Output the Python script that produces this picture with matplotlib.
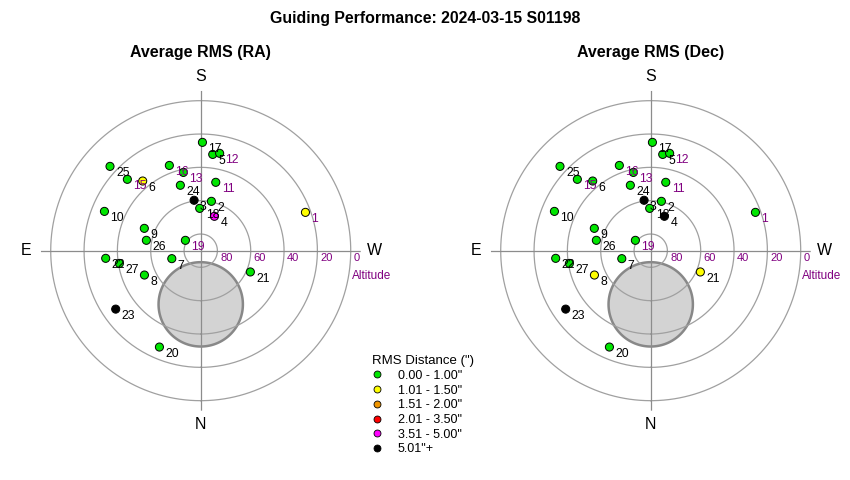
import numpy as np
import matplotlib
matplotlib.use("Agg")
import matplotlib.pyplot as plt
from matplotlib.lines import Line2D

plt.rcParams['font.family'] = ['Liberation Sans', 'DejaVu Sans']

# guide star positions: id, azimuth (deg from N through E), altitude (deg)
point_ids = [1, 2, 3, 4, 5, 6, 7, 8, 9, 10, 11, 12, 13, 15, 16, 17, 18, 19,
             20, 21, 22, 23, 24, 25, 26, 27]
azimuth = [249.9, 192.2, 172.5, 201.7, 187.1, 140.2, 74.6, 66.6, 111.6, 112.2,
           192.4, 191.0, 167.5, 134.2, 159.8, 180.9, 178.6, 124.0,
           23.2, 293.2, 85.4, 55.5, 162.7, 132.9, 100.8, 81.1]
altitude = [23.1, 59.7, 59.5, 67.8, 31.8, 35.6, 72.0, 53.2, 53.6, 27.6,
            48.0, 30.5, 41.9, 28.6, 35.5, 25.0, 64.6, 78.9,
            27.1, 57.6, 32.8, 28.1, 48.9, 15.7, 56.8, 40.6]
# rms class index per point (0..5, see legend)
ra_class = [1, 0, 5, 4, 0, 1, 0, 0, 0, 0, 0, 0, 0, 0, 0, 0, 0, 0,
            0, 0, 0, 5, 0, 0, 0, 0]
dec_class = [0, 0, 5, 5, 0, 0, 0, 1, 0, 0, 0, 0, 0, 0, 0, 0, 0, 0,
             0, 1, 0, 5, 0, 0, 0, 0]
purple_ids = [1, 11, 12, 13, 15, 16, 19]

class_labels = ['0.00 - 1.00"', '1.01 - 1.50"', '1.51 - 2.00"',
                '2.01 - 3.50"', '3.51 - 5.00"', '5.01"+']
class_colors = ['#00e600', '#ffff00', '#f09600', '#ff0000', '#ff00ff', '#000000']

alt_rings = [0, 20, 40, 60, 80]
# excluded zone around the pole (az 0)
pole_zd = 32.2
pole_radius = 25.3

PURPLE = '#800080'
RMAX = 96


def draw_sky(ax, classes):
    ax.set_theta_zero_location('S')
    ax.set_theta_direction(-1)
    ax.set_rlim(0, RMAX)
    ax.set_axis_off()

    # pole zone circle (round on screen)
    t = np.linspace(0, 2 * np.pi, 200)
    u = pole_zd + pole_radius * np.cos(t)
    v = pole_radius * np.sin(t)
    ax.fill(np.arctan2(v, u), np.hypot(u, v), facecolor='#d3d3d3',
            edgecolor='#888888', lw=1.8, zorder=1)

    th = np.linspace(0, 2 * np.pi, 360)
    for a in alt_rings:
        ax.plot(th, np.full_like(th, 90 - a), color='#a0a0a0', lw=0.9, zorder=2)
        ax.annotate(str(a), (np.radians(270), 90 - a), xytext=(2, -2),
                    textcoords='offset points', ha='left', va='top',
                    color=PURPLE, fontsize=8)
    for ang in [0, 90, 180, 270]:
        ax.plot([np.radians(ang)] * 2, [0, RMAX], color='#8c8c8c', lw=0.9, zorder=2)

    ax.annotate('Altitude', (np.radians(270), 90), xytext=(1, -18),
                textcoords='offset points', ha='left', va='center',
                color=PURPLE, fontsize=8.5)

    for lab, ang in [('N', 0), ('E', 90), ('S', 180), ('W', 270)]:
        ax.text(np.radians(ang), 104.5, lab, ha='center', va='center',
                fontsize=11.5)

    th_pts = np.radians(azimuth)
    r_pts = 90 - np.array(altitude)
    ax.scatter(th_pts, r_pts, s=34, c=[class_colors[c] for c in classes],
               edgecolors='black', linewidths=0.7, zorder=3)
    for pid, tp, rp in zip(point_ids, th_pts, r_pts):
        col = PURPLE if pid in purple_ids else 'black'
        ax.annotate(str(pid), (tp, rp), xytext=(4.3, -5),
                    textcoords='offset points', ha='left', va='center',
                    fontsize=8.8, color=col, zorder=4)


fig = plt.figure(figsize=(8.5, 4.8), dpi=100)
ax1 = fig.add_axes([0.0479, 0.1444, 0.3765, 0.6667], projection='polar')
ax2 = fig.add_axes([0.5773, 0.1444, 0.3765, 0.6667], projection='polar')
draw_sky(ax1, ra_class)
draw_sky(ax2, dec_class)

fig.text(200.7 / 850, 1 - 53 / 480, 'Average RMS (RA)', ha='center',
         va='center', fontsize=11.5, fontweight='bold')
fig.text(650.7 / 850, 1 - 53 / 480, 'Average RMS (Dec)', ha='center',
         va='center', fontsize=11.5, fontweight='bold')
fig.text(0.5, 1 - 18 / 480, 'Guiding Performance: 2024-03-15 S01198',
         ha='center', va='center', fontsize=11.4, fontweight='bold')

handles = [Line2D([], [], ls='none', marker='o', markersize=5,
                  markerfacecolor=c, markeredgecolor='black', markeredgewidth=0.6)
           for c in class_colors]
fig.legend(handles, class_labels, title='RMS Distance (")', loc='upper left',
           bbox_to_anchor=(362 / 850, 1 - 345 / 480), frameon=False,
           fontsize=9, title_fontsize=9.5, alignment='left',
           handlelength=0.8, handletextpad=1.25, labelspacing=0.22,
           borderpad=0.3)

fig.savefig('out.png', dpi=100)
